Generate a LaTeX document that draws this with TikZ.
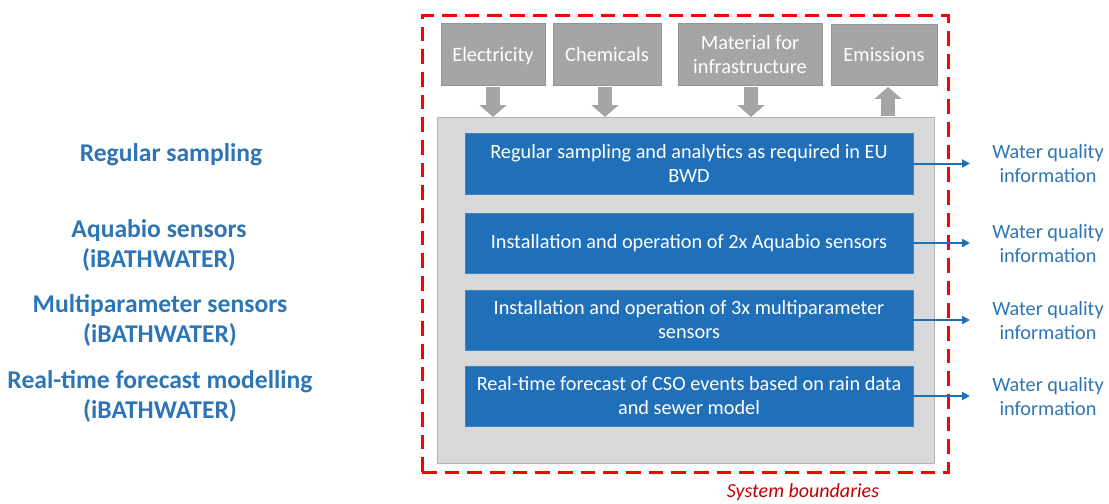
\documentclass[tikz,border=0pt]{standalone}
\usepackage{fontspec}
\setmainfont{Carlito}
\usepackage{xcolor}
\usetikzlibrary{positioning,calc,arrows.meta}

\definecolor{boxblue}{RGB}{31,112,184}
\definecolor{textblue}{RGB}{46,117,182}
\definecolor{inputgray}{RGB}{165,165,165}
\definecolor{areagray}{RGB}{217,217,217}
\definecolor{boundred}{RGB}{192,0,0}

\begin{document}
\begin{tikzpicture}[x=0.75pt, y=-0.75pt,
    inputbox/.style={fill=inputgray, draw=inputgray!90!black, line width=0.4pt, text=white, align=center, minimum height=46.5pt, font=\fontsize{15.3}{18}\selectfont, inner sep=2pt},
    processbox/.style={fill=boxblue, draw=boxblue!85!white, line width=0.4pt, text=white, align=center, minimum width=336pt, minimum height=45pt, font=\fontsize{15.2}{18}\selectfont},
    infotext/.style={text=textblue, align=center, font=\fontsize{15.2}{18}\selectfont},
    methodtext/.style={text=textblue, align=center, font=\fontsize{19.2}{22.5}\selectfont\bfseries},
    flowarrow/.style={draw=inputgray, line width=10.5pt, -{Triangle[length=9pt, width=20pt]}},
    outarrow/.style={draw=boxblue, line width=1.5pt, -{Triangle[length=6pt, width=6pt]}}]

    \useasboundingbox (0,0) rectangle (1109,503);

    % System boundaries
    \node[draw=red, line width=2.25pt, dash pattern=on 11pt off 6pt, minimum width=394.5pt, minimum height=342pt] (bound) at (685,244) {};
    \node[text=boundred, font=\fontsize{15}{18}\selectfont\itshape] (boundlabel) at (803,492) {System boundaries};

    % Grey process area
    \node[fill=areagray, draw=black!30, line width=0.6pt, minimum width=372.75pt, minimum height=259.5pt] (area) at (685.5,290) {};

    % Inputs and outputs
    \node[inputbox, minimum width=78pt, text depth=0pt] (elec) at (493,54) {Electricity};
    \node[inputbox, minimum width=81pt] (chem) at (607,54) {Chemicals};
    \node[inputbox, minimum width=108pt] (mat) at (750,54) {Material for\\infrastructure};
    \node[inputbox, minimum width=79.5pt, minimum height=46pt] (emis) at (884,55) {Emissions};

    \draw[flowarrow] (elec.south -| 493,0) ++(0,2) -- (493,117);
    \draw[flowarrow] (chem.south -| 605,0) ++(0,2) -- (605,117);
    \draw[flowarrow] (mat.south -| 751,0) ++(0,2) -- (751,117);
    \draw[flowarrow] (888,116) -- ($(emis.south -| 888,0)+(0,1)$);

    % Monitoring approaches
    \node[processbox, minimum height=45.75pt] (sampling) at (689,163.5) {Regular sampling and analytics as required in EU\\BWD};
    \node[processbox] (aquabio) at (689,243) {Installation and operation of 2x Aquabio sensors};
    \node[processbox] (multi) at (689,320) {Installation and operation of 3x multiparameter\\sensors};
    \node[processbox] (forecast) at (689,396) {Real-time forecast of CSO events based on rain data\\and sewer model};

    % Water quality information
    \node[infotext] (info1) at (1048,164) {Water quality\\information};
    \node[infotext] (info2) at (1048,244) {Water quality\\information};
    \node[infotext] (info3) at (1048,321) {Water quality\\information};
    \node[infotext] (info4) at (1048,397) {Water quality\\information};

    \draw[outarrow] (sampling.east) -- (sampling.east -| 970,0);
    \draw[outarrow] (aquabio.east) -- (aquabio.east -| 970,0);
    \draw[outarrow] (multi.east) -- (multi.east -| 970,0);
    \draw[outarrow] (forecast.east) -- (forecast.east -| 970,0);

    % Labels on the left
    \node[methodtext] (regular) at (171,155) {Regular sampling};
    \node[methodtext] (aqualabel) at (159,245) {Aquabio sensors\\(iBATHWATER)};
    \node[methodtext] (multilabel) at (160,320) {Multiparameter sensors\\(iBATHWATER)};
    \node[methodtext] (rtlabel) at (160,396) {Real-time forecast modelling\\(iBATHWATER)};
\end{tikzpicture}
\end{document}
